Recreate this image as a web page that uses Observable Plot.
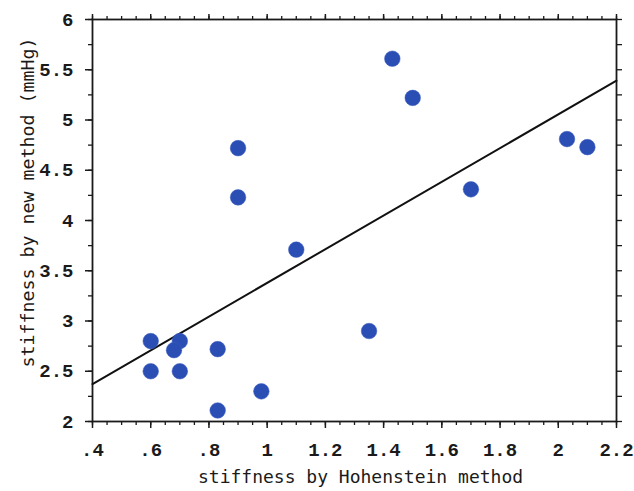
<!DOCTYPE html>
<html><head><meta charset="utf-8">
<script src="https://cdn.jsdelivr.net/npm/d3@7"></script>
<script src="https://cdn.jsdelivr.net/npm/@observablehq/plot@0.6"></script>
<style>body{margin:0;background:#fff}</style>
</head><body><div id="chart"></div>
<script>
const hohenstein = [0.6, 0.7, 0.68, 0.6, 0.7, 0.83, 0.98, 0.83, 1.35, 0.9, 0.9, 1.1, 1.43, 1.5, 1.7, 2.03, 2.1];
const newMethod  = [2.8, 2.8, 2.71, 2.5, 2.5, 2.72, 2.3, 2.11, 2.9, 4.72, 4.23, 3.71, 5.61, 5.22, 4.31, 4.81, 4.73];
const xTicks = [0.4, 0.6, 0.8, 1, 1.2, 1.4, 1.6, 1.8, 2, 2.2];
const xTickLabels = [".4", ".6", ".8", "1", "1.2", "1.4", "1.6", "1.8", "2", "2.2"];
const yTicks = [2, 2.5, 3, 3.5, 4, 4.5, 5, 5.5, 6];
const yTickLabels = ["2", "2.5", "3", "3.5", "4", "4.5", "5", "5.5", "6"];
const xMinor = d3.range(0.4, 2.2001, 0.05).map(v => +v.toFixed(2));
const yMinor = d3.range(2, 6.0001, 0.25).map(v => +v.toFixed(2));
const xTitle = "stiffness by Hohenstein method";
const yTitle = "stiffness by new method (mmHg)";

const points = hohenstein.map((x, i) => ({x, y: newMethod[i]}));
// least-squares regression computed from the data, drawn across the x domain
const mx = d3.mean(hohenstein), my = d3.mean(newMethod);
const slope = d3.sum(points, p => (p.x - mx) * (p.y - my)) / d3.sum(points, p => (p.x - mx) ** 2);
const intercept = my - slope * mx;
const xDomain = [xTicks[0], xTicks[xTicks.length - 1]];
const fitLine = xDomain.map(x => ({x, y: intercept + slope * x}));

const tickFont = "Liberation Mono, DejaVu Sans Mono, monospace";
const titleFont = "DejaVu Sans Mono, Liberation Mono, monospace";
const ink = "#1a1a1a";

const chart = Plot.plot({
  width: 634,
  height: 491,
  marginLeft: 92,
  marginRight: 18,
  marginTop: 19,
  marginBottom: 70,
  style: {background: "#fff", color: ink},
  x: {domain: xDomain},
  y: {domain: [yTicks[0], yTicks[yTicks.length - 1]]},
  marks: [
    Plot.axisX({ticks: xMinor, tickSize: 4, tickFormat: () => "", label: null, stroke: ink, strokeWidth: 1.3}),
    Plot.axisX({ticks: xTicks, tickSize: 7, tickPadding: 14, tickFormat: (d, i) => xTickLabels[i], label: null,
      fontSize: 19, fontFamily: tickFont, fontWeight: "bold", stroke: ink, strokeWidth: 1.5, fill: ink}),
    Plot.axisX({anchor: "top", ticks: xMinor, tickSize: 4, tickFormat: () => "", label: null, stroke: ink, strokeWidth: 1.3}),
    Plot.axisX({anchor: "top", ticks: xTicks, tickSize: 6, tickFormat: () => "", label: null, stroke: ink, strokeWidth: 1.5}),
    Plot.axisY({ticks: yMinor, tickSize: 4, tickFormat: () => "", label: null, stroke: ink, strokeWidth: 1.3}),
    Plot.axisY({ticks: yTicks, tickSize: 7, tickPadding: 12, tickFormat: (d, i) => yTickLabels[i], label: null,
      fontSize: 19, fontFamily: tickFont, fontWeight: "bold", stroke: ink, strokeWidth: 1.5, fill: ink}),
    Plot.axisY({anchor: "right", ticks: yMinor, tickSize: 5, tickFormat: () => "", label: null, stroke: ink, strokeWidth: 1.3}),
    Plot.frame({stroke: ink, strokeWidth: 1.8}),
    Plot.line(fitLine, {x: "x", y: "y", stroke: "#111", strokeWidth: 2}),
    Plot.dot(points, {x: "x", y: "y", r: 7.8, fill: "#2b4eb5", stroke: "#3a5cc0", strokeWidth: 0.5}),
    Plot.text([xTitle], {frameAnchor: "bottom", dx: 6, dy: 61, fontSize: 18, fontFamily: titleFont, fill: ink}),
    Plot.text([yTitle], {frameAnchor: "left", textAnchor: "middle", rotate: -90, dx: -64, dy: -18, fontSize: 18.3, fontFamily: titleFont, fill: ink})
  ]
});
document.getElementById("chart").append(chart);
</script>
</body></html>
